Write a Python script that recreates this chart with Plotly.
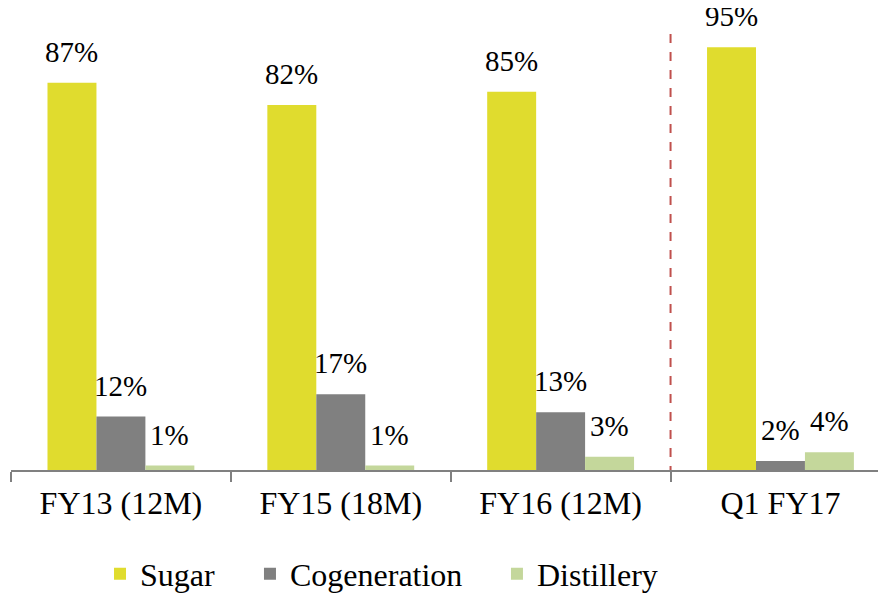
import plotly.graph_objects as go

categories = ["FY13 (12M)", "FY15 (18M)", "FY16 (12M)", "Q1 FY17"]
sugar = [87, 82, 85, 95]
cogeneration = [12, 17, 13, 2]
distillery = [1, 1, 3, 4]

series = [
    ("Sugar", sugar, "#E0DC2E"),
    ("Cogeneration", cogeneration, "#808080"),
    ("Distillery", distillery, "#C4D79B"),
]
legend_ids = ["legend", "legend2", "legend3"]
legend_x = [0.1048, 0.2756, 0.5569]

FONT = "Liberation Serif"
fig = go.Figure()
for (name, vals, color), lid in zip(series, legend_ids):
    fig.add_trace(go.Bar(
        name=name, x=categories, y=vals, legend=lid,
        marker=dict(color=color, line=dict(width=0)),
    ))

bar_px = 49
annotations = []
for si, (name, vals, color) in enumerate(series):
    for ci, v in enumerate(vals):
        annotations.append(dict(
            x=categories[ci], y=v, xref="x", yref="y",
            text=f"{v}%", showarrow=False,
            xshift=(si - 1) * bar_px, yshift=13, yanchor="bottom",
            font=dict(family=FONT, size=29, color="#000000"),
        ))

leg_common = dict(orientation="h", xref="container", yref="container", y=0.036,
                  xanchor="left", yanchor="middle", bgcolor="rgba(0,0,0,0)",
                  font=dict(family=FONT, size=32, color="#000000"))
layout_legends = {}
for lid, lx in zip(legend_ids, legend_x):
    layout_legends[lid] = dict(leg_common, x=lx)

fig.update_layout(
    width=878, height=587,
    margin=dict(l=3, r=0, t=0, b=125, autoexpand=False),
    paper_bgcolor="white", plot_bgcolor="white",
    barmode="group", bargap=0.332, bargroupgap=0,
    font=dict(family=FONT, size=32, color="#000000"),
    annotations=annotations,
    showlegend=True,
    xaxis=dict(
        range=[-0.5, 3.48], showline=True, linecolor="#808080", linewidth=2,
        ticks="outside", tickson="boundaries", ticklen=10, tickcolor="#808080", tickwidth=1.5,
        showgrid=False, zeroline=False, ticklabelstandoff=4, automargin=False,
        tickfont=dict(family=FONT, size=32, color="#000000"),
    ),
    yaxis=dict(range=[0, 103.8], visible=False, showgrid=False, zeroline=False, automargin=False),
    shapes=[dict(
        type="line", xref="x", yref="y", x0=2.5, x1=2.5, y0=-9.2, y1=98.9,
        line=dict(color="#C0504D", width=2, dash="dash"),
    )],
    **layout_legends,
)

fig.write_html("out.html")
